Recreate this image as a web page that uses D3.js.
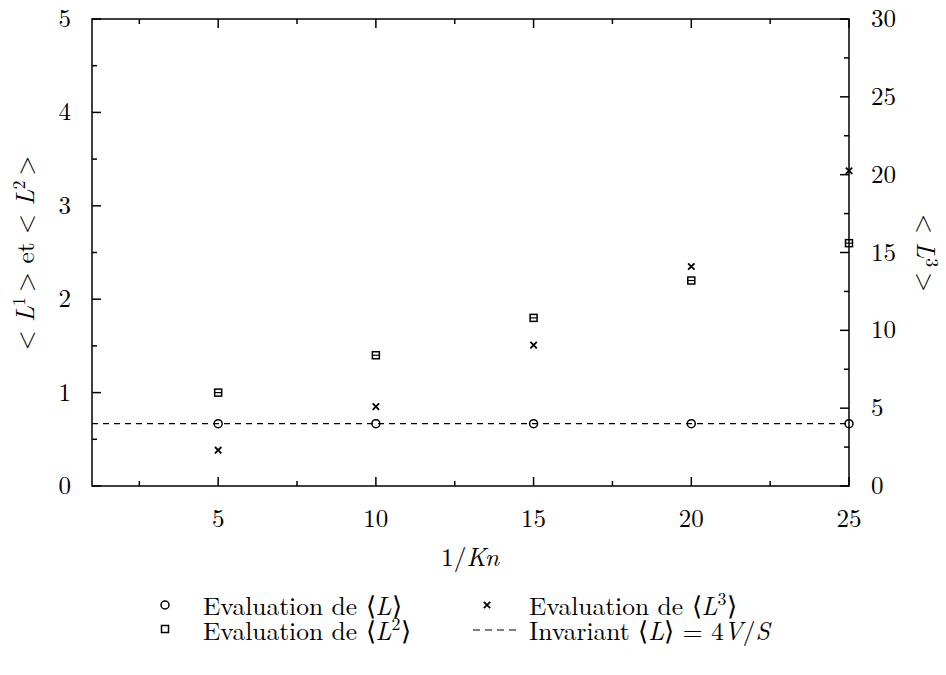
<!DOCTYPE html>
<html>
<head>
<meta charset="utf-8">
<script src="https://cdn.jsdelivr.net/npm/d3@7"></script>
<style>
  html, body { margin: 0; padding: 0; background: #fff; }
</style>
</head>
<body>
<svg id="chart" width="946" height="675"></svg>
<script>
// ---- data ----
const xValues   = [5, 10, 15, 20, 25];
const evalL     = [0.667, 0.667, 0.667, 0.667, 0.667];   // left axis
const evalL2    = [1.0, 1.4, 1.8, 2.2, 2.6];              // left axis
const evalL3    = [2.3, 5.1, 9.05, 14.1, 20.25];          // right axis
const invariant = 0.667;                                  // 4V/S
const xTicks    = [5, 10, 15, 20, 25];
const yTicks    = [0, 1, 2, 3, 4, 5];
const y2Ticks   = [0, 5, 10, 15, 20, 25, 30];

// ---- layout ----
const FONT = "'Latin Modern Roman', 'CMU Serif', 'Liberation Serif', serif";
const svg = d3.select("#chart");
const L = 92, R = 849, T = 19, B = 486;
const x  = d3.scaleLinear().domain([1, 25]).range([L, R]);
const y  = d3.scaleLinear().domain([0, 5]).range([B, T]);
const y2 = d3.scaleLinear().domain([0, 30]).range([B, T]);
const FS = 25;
const LFS = 25.5;
const lw = 1.5;

const g = svg.append("g");

// frame
g.append("rect").attr("x", L).attr("y", T).attr("width", R - L).attr("height", B - T)
  .attr("fill", "none").attr("stroke", "#000").attr("stroke-width", lw);

// ticks helper
const tg = g.append("g");
function ticks(values, pos, len, orient) {
  values.forEach(v => {
    const p = pos(v);
    if (orient === "bottom") tg.append("line").attr("x1", p).attr("x2", p).attr("y1", B).attr("y2", B - len);
    if (orient === "top")    tg.append("line").attr("x1", p).attr("x2", p).attr("y1", T).attr("y2", T + len);
    if (orient === "left")   tg.append("line").attr("x1", L).attr("x2", L + len).attr("y1", p).attr("y2", p);
    if (orient === "right")  tg.append("line").attr("x1", R).attr("x2", R - len).attr("y1", p).attr("y2", p);
  });
}
const xMinor  = d3.range(2.5, 25, 5);
const yMinor  = d3.range(0.5, 5, 1);
const y2Minor = d3.range(2.5, 30, 5);
ticks(xTicks, x, 9, "bottom"); ticks(xTicks, x, 9, "top");
ticks(xMinor, x, 5, "bottom"); ticks(xMinor, x, 5, "top");
ticks(yTicks, y, 9, "left");   ticks(yMinor, y, 5, "left");
ticks(y2Ticks, y2, 9, "right"); ticks(y2Minor, y2, 5, "right");
tg.selectAll("line").attr("stroke", "#000").attr("stroke-width", lw);

// tick labels
function txt(sel) { return sel.attr("font-family", FONT).attr("fill", "#000"); }
txt(g.selectAll(".xl").data(xTicks).enter().append("text"))
  .attr("x", d => x(d)).attr("y", 527).attr("text-anchor", "middle")
  .attr("font-size", FS).text(d => d);
txt(g.selectAll(".yl").data(yTicks).enter().append("text"))
  .attr("x", 71).attr("y", d => y(d) + 8).attr("text-anchor", "end")
  .attr("font-size", FS).text(d => d);
txt(g.selectAll(".y2l").data(y2Ticks).enter().append("text"))
  .attr("x", 871).attr("y", d => y2(d) + 8).attr("text-anchor", "start")
  .attr("font-size", FS).text(d => d);

// axis titles
const xt = txt(g.append("text")).attr("x", 470).attr("y", 566).attr("text-anchor", "middle").attr("font-size", LFS);
xt.append("tspan").text("1/");
xt.append("tspan").attr("font-style", "italic").text("Kn");

function sup(t, base, s, fs) {
  t.append("tspan").attr("font-style", "italic").text(base);
  t.append("tspan").attr("font-size", fs * 0.7).attr("dy", -9).text(s);
  t.append("tspan").attr("dy", 9).text("\u2009");
}
const yt = txt(g.append("text")).attr("transform", "translate(34,253) rotate(-90)")
  .attr("text-anchor", "middle").attr("font-size", LFS);
yt.append("tspan").text("< ");
sup(yt, "L", "1", LFS);
yt.append("tspan").text("> et < ");
sup(yt, "L", "2", LFS);
yt.append("tspan").text(">");

const y2t = txt(g.append("text")).attr("transform", "translate(917,253) rotate(90)")
  .attr("text-anchor", "middle").attr("font-size", LFS);
y2t.append("tspan").text("< ");
sup(y2t, "L", "3", LFS);
y2t.append("tspan").text(">");

// invariant dashed line
g.append("line").attr("x1", L).attr("x2", R).attr("y1", y(invariant)).attr("y2", y(invariant))
  .attr("stroke", "#000").attr("stroke-width", 1.2).attr("stroke-dasharray", "6,5");

// markers
function circle(sel, cx, cy, r) {
  sel.append("circle").attr("cx", cx).attr("cy", cy).attr("r", r)
    .attr("fill", "none").attr("stroke", "#000").attr("stroke-width", 1.5);
}
function square(sel, cx, cy, h, bar) {
  sel.append("rect").attr("x", cx - h).attr("y", cy - h).attr("width", 2 * h).attr("height", 2 * h)
    .attr("fill", "none").attr("stroke", "#000").attr("stroke-width", 1.5);
  if (bar) sel.append("line").attr("x1", cx - h).attr("x2", cx + h).attr("y1", cy).attr("y2", cy)
    .attr("stroke", "#000").attr("stroke-width", 1.2);
}
function cross(sel, cx, cy, h) {
  sel.append("path").attr("d", `M${cx - h},${cy - h}L${cx + h},${cy + h}M${cx - h},${cy + h}L${cx + h},${cy - h}`)
    .attr("stroke", "#000").attr("stroke-width", 1.8).attr("fill", "none");
}
const pts = g.append("g");
xValues.forEach((xv, i) => {
  circle(pts, x(xv), y(evalL[i]), 4);
  square(pts, x(xv), y(evalL2[i]), 3.5, true);
  cross(pts, x(xv), y2(evalL3[i]), 3.2);
});

// legend
const lg = g.append("g");
circle(lg, 165, 605, 4);
square(lg, 165, 629, 3.5, false);
cross(lg, 487, 605, 3.2);
lg.append("line").attr("x1", 473).attr("x2", 518).attr("y1", 630).attr("y2", 630)
  .attr("stroke", "#000").attr("stroke-width", 1.2).attr("stroke-dasharray", "7,5");

function legText(px, py, parts) {
  const t = txt(lg.append("text")).attr("x", px).attr("y", py).attr("font-size", LFS);
  parts(t);
}
legText(203, 615, t => {
  t.append("tspan").text("Evaluation de \u27E8");
  t.append("tspan").attr("font-style", "italic").text("L");
  t.append("tspan").text("\u27E9");
});
legText(203, 640, t => {
  t.append("tspan").text("Evaluation de \u27E8");
  t.append("tspan").attr("font-style", "italic").text("L");
  t.append("tspan").attr("font-size", LFS * 0.7).attr("dy", -10).text("2");
  t.append("tspan").attr("dy", 10).text("\u27E9");
});
legText(529, 615, t => {
  t.append("tspan").text("Evaluation de \u27E8");
  t.append("tspan").attr("font-style", "italic").text("L");
  t.append("tspan").attr("font-size", LFS * 0.7).attr("dy", -10).text("3");
  t.append("tspan").attr("dy", 10).text("\u27E9");
});
legText(529, 640, t => {
  t.append("tspan").text("Invariant \u27E8");
  t.append("tspan").attr("font-style", "italic").text("L");
  t.append("tspan").text("\u27E9 = 4");
  t.append("tspan").attr("font-style", "italic").text("V");
  t.append("tspan").text("/");
  t.append("tspan").attr("font-style", "italic").text("S");
});
</script>
</body>
</html>
